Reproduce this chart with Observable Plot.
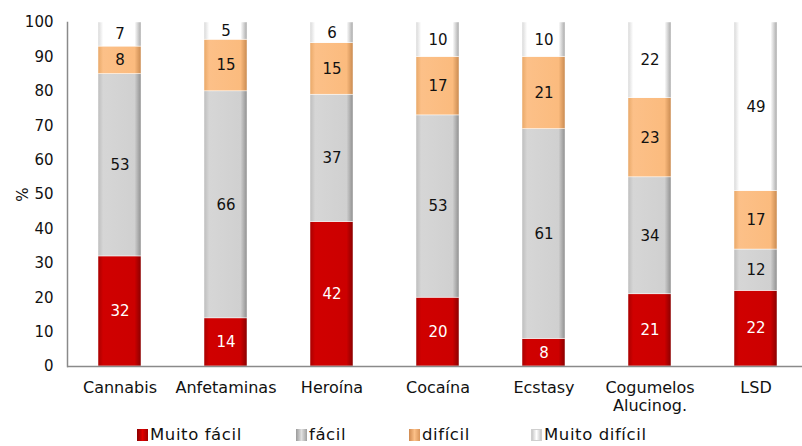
<!DOCTYPE html>
<html><head><meta charset="utf-8">
<script src="https://cdn.jsdelivr.net/npm/d3@7"></script>
<script src="https://cdn.jsdelivr.net/npm/@observablehq/plot@0.6"></script>
<style>
body{margin:0;background:#fff;font-family:"DejaVu Sans",sans-serif}
#wrap{position:relative;width:802px;height:446px;overflow:hidden}
.leg{position:absolute;top:425px;font-size:16.5px;letter-spacing:0.6px;color:#111;white-space:nowrap;line-height:20px}
.sw{position:absolute;top:429px;width:11px;height:12px;box-sizing:border-box}
</style></head><body><div id="wrap"></div>
<script>
const categories = ["Cannabis","Anfetaminas","Heroína","Cocaína","Ecstasy","Cogumelos Alucinog.","LSD"];
const series = ["Muito fácil","fácil","difícil","Muito difícil"];
const muitoFacil = [32,14,42,20,8,21,22];
const facil = [53,66,37,53,61,34,12];
const dificil = [8,15,15,17,21,23,17];
const muitoDificil = [7,5,6,10,10,22,49];
const yTicks = [0,10,20,30,40,50,60,70,80,90,100];

const seriesValues = [muitoFacil, facil, dificil, muitoDificil];
const gradIds = ["g-red","g-grey","g-orange","g-white"];
const gradStops = [
  ["#a80000","#d00000","#cc0000","#8a0000"],
  ["#bdbdbd","#d6d6d6","#d0d0d0","#8f8f8f"],
  ["#e8a868","#fcc088","#fbbb7e","#c98a50"],
  ["#d8d8d8","#ffffff","#ffffff","#a8a8a8"]
];
const data = [];
series.forEach((s, si) => categories.forEach((c, ci) => data.push({cat: c, series: s, value: seriesValues[si][ci]})));

const chart = Plot.plot({
  width: 802, height: 420,
  marginLeft: 67, marginRight: 0, marginTop: 22, marginBottom: 54,
  style: {fontFamily: "DejaVu Sans, sans-serif", fontSize: "15px", background: "white", overflow: "visible", color: "#111"},
  x: {domain: categories, range: [65, 810], paddingInner: 0.59, paddingOuter: 0.295, label: null},
  y: {domain: [0, 100], label: null},
  color: {domain: series, range: gradIds.map(id => `url(#${id})`)},
  marks: [
    Plot.barY(data, Plot.stackY({x: "cat", y: "value", fill: "series", z: "series", order: series, stroke: "#ffffff", strokeWidth: 0.6, strokeOpacity: 0.8})),
    Plot.text(data, Plot.stackY({x: "cat", y: "value", z: "series", order: series, text: d => d.series === "Muito fácil" ? d.value : "", fill: "white", fontSize: 15})),
    Plot.text(data, Plot.stackY({x: "cat", y: "value", z: "series", order: series, text: d => d.series === "Muito fácil" ? "" : d.value, fill: "#111", fontSize: 15})),
    Plot.axisY({ticks: yTicks, tickSize: 0, tickPadding: 14, fontSize: 15, fill: "#111", label: "%", labelAnchor: "center", labelOffset: 50, labelArrow: "none"}),
    Plot.axisX({tickSize: 0, tickPadding: 14, fontSize: 16, lineHeight: 1.1, fill: "#111", style: {letterSpacing: "0.6px"}, tickFormat: d => d.replace("Cogumelos ", "Cogumelos\n"), label: null}),
    Plot.frame({anchor: "left", stroke: "#8a8a8a", strokeWidth: 1.5}),
    Plot.ruleY([0], {stroke: "#8a8a8a", strokeWidth: 1.5})
  ]
});

const svg = d3.select(chart);
const defs = svg.insert("defs", ":first-child");
gradIds.forEach((id, i) => {
  const g = defs.append("linearGradient").attr("id", id).attr("x1", 0).attr("x2", 1).attr("y1", 0).attr("y2", 0);
  const st = gradStops[i];
  [[0, st[0]], [0.12, st[1]], [0.85, st[2]], [1, st[3]]].forEach(([o, c]) => g.append("stop").attr("offset", o).attr("stop-color", c));
});
document.getElementById("wrap").appendChild(chart);

// legend
const wrap = document.getElementById("wrap");
const legX = [137, 296, 409, 531];
const swCss = [
  "linear-gradient(90deg,#8a0000,#e00000,#a00000)",
  "linear-gradient(90deg,#9a9a9a,#e0e0e0,#a0a0a0)",
  "linear-gradient(90deg,#d08a50,#fcc088,#d9955a)",
  "linear-gradient(90deg,#c8c8c8,#ffffff,#c8c8c8)"
];
series.forEach((s, i) => {
  const sw = document.createElement("div");
  sw.className = "sw"; sw.style.left = legX[i] + "px"; sw.style.background = swCss[i];
  if (i === 3) sw.style.border = "1px solid #cfcfcf";
  wrap.appendChild(sw);
  const t = document.createElement("div");
  t.className = "leg"; t.style.left = (legX[i] + 13) + "px"; t.textContent = s;
  wrap.appendChild(t);
});
</script>
</body></html>
